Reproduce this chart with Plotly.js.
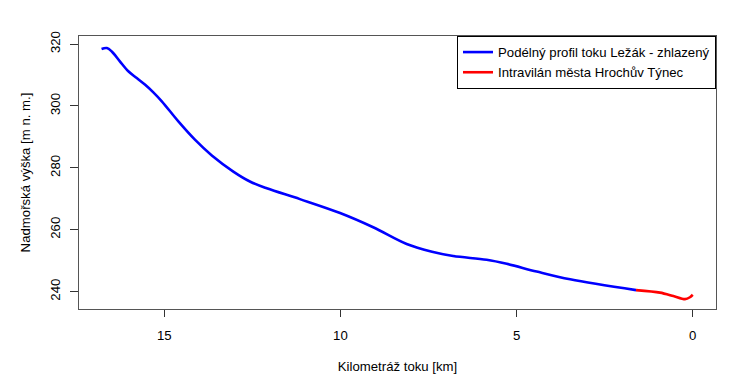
<!DOCTYPE html>
<html>
<head>
<meta charset="utf-8">
<script src="https://cdn.plot.ly/plotly-3.0.1.min.js"></script>
<style>html,body{margin:0;padding:0;background:#fff;}#chart{width:752px;height:389px;}</style>
</head>
<body>
<div id="chart"></div>
<script>
// Blue: smoothed longitudinal profile (km, elevation)
const profileKm = [16.78, 16.63, 16.49, 16.26, 16.02, 15.78, 15.55, 15.31, 15.07, 14.60, 14.13, 13.65, 13.04, 12.57, 12.09, 11.15, 10.01, 9.07, 8.12, 7.40, 6.80, 5.85, 5.28, 4.43, 3.48, 1.61];
const profileH  = [318.4, 318.7, 317.6, 314.4, 311.2, 309.0, 306.9, 304.4, 301.5, 295.0, 289.1, 284.0, 278.8, 275.6, 273.4, 269.9, 265.4, 260.8, 255.4, 252.9, 251.5, 250.3, 249.0, 246.5, 244.0, 240.5];
// Red: town section
const townKm = [1.61, 0.93, 0.55, 0.22, 0.08, 0.0];
const townH  = [240.5, 239.7, 238.6, 237.6, 238.2, 239.0];

const seriesNames = ["Podélný profil toku Ležák - zhlazený", "Intravilán města Hrochův Týnec"];
const xTicks = [15, 10, 5, 0];
const yTicks = [240, 260, 280, 300, 320];

const font = {family: "Liberation Sans, Arial, sans-serif", size: 13.2, color: "#000"};

const traces = [
  {x: profileKm, y: profileH, type: "scatter", mode: "lines", name: seriesNames[0],
   line: {color: "#0000FF", width: 2.6, shape: "spline", smoothing: 1}},
  {x: townKm, y: townH, type: "scatter", mode: "lines", name: seriesNames[1],
   line: {color: "#FF0000", width: 2.6, shape: "spline", smoothing: 0.8}}
];

const layout = {
  width: 752, height: 389,
  margin: {l: 79, r: 36, t: 36, b: 80},
  paper_bgcolor: "#fff", plot_bgcolor: "#fff",
  font: font,
  showlegend: true,
  legend: {x: 1, xanchor: "right", y: 1, yanchor: "top", bgcolor: "#fff",
           bordercolor: "#000", borderwidth: 1, font: font, tracegroupgap: 0,
           traceorder: "normal"},
  xaxis: {range: [17.42, -0.66], tickvals: xTicks, ticktext: xTicks.map(String),
          ticks: "outside", ticklen: 7, tickcolor: "#333", showgrid: false, zeroline: false,
          showline: true, mirror: true, linecolor: "#555", linewidth: 1,
          ticklabelstandoff: 7, tickfont: font,
          title: {text: "Kilometráž toku [km]", font: font, standoff: 19}},
  yaxis: {range: [234.4, 322.6], tickvals: yTicks, ticktext: yTicks.map(String),
          ticks: "outside", ticklen: 8, tickcolor: "#333", showgrid: false, zeroline: false,
          showline: true, mirror: true, linecolor: "#555", linewidth: 1,
          tickangle: -90, ticklabelstandoff: 5, tickfont: font,
          title: {text: "Nadmořská výška [m n. m.]", font: font, standoff: 14}}
};

Plotly.newPlot("chart", traces, layout, {displayModeBar: false, staticPlot: true});
</script>
</body>
</html>
